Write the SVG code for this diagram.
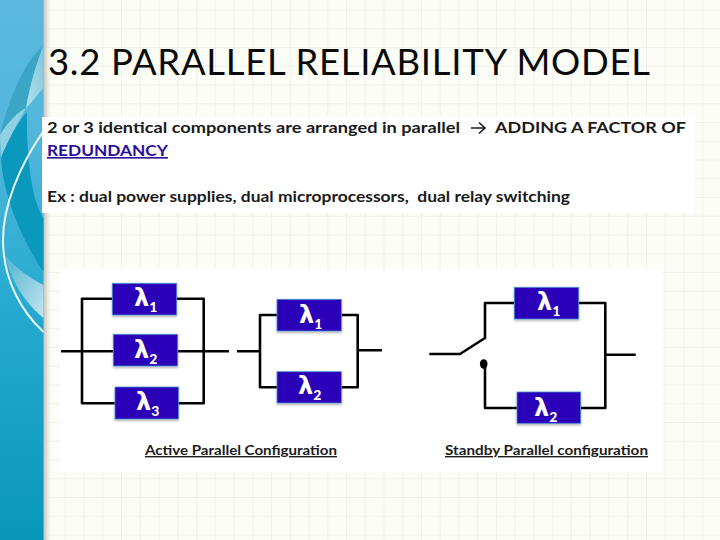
<svg xmlns="http://www.w3.org/2000/svg" width="720" height="540" viewBox="0 0 720 540">
<style>
.wire{fill:none;stroke:#000;stroke-width:2.6;stroke-linejoin:round}
.box{fill:#2a00b8;stroke:#4a8fd0;stroke-width:.8;filter:url(#ds)}
.lam{font-family:"DejaVu Sans",sans-serif;font-weight:700;font-size:24px;fill:#fff}
.sub{font-family:Lato,sans-serif;font-weight:900;font-size:14px}
.body{font-family:Lato,sans-serif;font-weight:700;font-size:16px;fill:#1a1a1a}
.cap{font-family:Lato,sans-serif;font-weight:700;font-size:14px;fill:#1c1c1c;text-decoration:underline}
</style>
<defs>
<pattern id="grid" width="18.75" height="18.75" patternUnits="userSpaceOnUse" x="8.5" y="9.5">
<path d="M0 0V18.75M0 0H18.75" fill="none" stroke="#e6e8dc" stroke-width="1"/>
</pattern>
<linearGradient id="side" x1="0" y1="0" x2="0" y2="1">
<stop offset="0" stop-color="#5cb9df"/><stop offset=".25" stop-color="#52b6dc"/><stop offset=".55" stop-color="#27abd0"/><stop offset="1" stop-color="#0a96bb"/>
</linearGradient>
<linearGradient id="shadow" x1="0" y1="0" x2="1" y2="0">
<stop offset="0" stop-color="#b9b9b2"/><stop offset="1" stop-color="#fdfdf8" stop-opacity="0"/>
</linearGradient>
<linearGradient id="wedge" x1="0" y1="0" x2="1" y2="1">
<stop offset="0" stop-color="#4fb3d2"/><stop offset="1" stop-color="#c4e5ee"/>
</linearGradient>
<linearGradient id="wedge2" x1="1" y1="0" x2="0" y2="1">
<stop offset="0" stop-color="#7cc6da"/><stop offset="1" stop-color="#b5e0ea"/>
</linearGradient>
<filter id="ds" x="-10%" y="-10%" width="120%" height="125%"><feDropShadow dx="0" dy="1.5" stdDeviation="1" flood-color="#000" flood-opacity=".3"/></filter>
</defs>
<rect width="720" height="540" fill="#fdfdf8"/>
<rect width="720" height="540" fill="url(#grid)"/>
<g id="sidebar">
<rect x="43" width="10" height="540" fill="url(#shadow)"/>
<rect width="43.500" height="540" fill="url(#side)"/>
<path d="M43.500 45C26 62 12 88 0 135C8 122 18 112 26 108C30 85 36 65 43.500 45Z" fill="#3ba5c6"/>
<path d="M43.500 45C36 65 30 85 26 108C32 102 38 94 43.500 88Z" fill="url(#wedge2)"/>
<path d="M26 108C18 112 8 122 0 135L1 158C8 140 18 122 26 108Z" fill="#8fd0e2"/>
<path d="M27 112C18 122 8 140 1 158C3 195 22 240 43.500 272V218C34 205 26 165 27 112Z" fill="#0b98bd"/>
<path d="M5 255C12 285 28 305 43.500 318V285C30 278 15 268 5 255Z" fill="url(#wedge)"/>
<path d="M43.500 131C20 165 3 205 3 240C3 280 22 312 43.500 332" fill="none" stroke="#eefbfd" stroke-width="2"/>
</g>
<rect id="panel-top" x="42" y="117" width="652" height="96" fill="#fff"/>
<rect id="panel-bottom" x="60" y="270" width="602" height="202" fill="#fff"/>
<text x="48" y="75" font-family="Lato,sans-serif" font-weight="400" font-size="36.500" fill="#0a0a0a" textLength="602" lengthAdjust="spacing">3.2 PARALLEL RELIABILITY MODEL</text>
<g id="intro">
<text class="body" x="47" y="133" textLength="413" lengthAdjust="spacingAndGlyphs">2 or 3 identical components are arranged in parallel</text>
<path d="M471 128H485M479 122.500L485 128L479 133.500" fill="none" stroke="#1a1a1a" stroke-width="1.600"/>
<text class="body" x="495" y="133" textLength="191" lengthAdjust="spacingAndGlyphs">ADDING A FACTOR OF</text>
<text class="body" x="47" y="156" style="fill:#2a0ea0;text-decoration:underline" textLength="121" lengthAdjust="spacingAndGlyphs">REDUNDANCY</text>
<text class="body" x="47" y="202" textLength="523" lengthAdjust="spacingAndGlyphs" xml:space="preserve">Ex : dual power supplies, dual microprocessors,  dual relay switching</text>
</g>
<g id="connectors">
<path class="wire" d="M112 298.700H82V403.300H115M177 298.700H203.700V403.300H178M61 351.300H113M178 351.300H229"/>
<path class="wire" d="M237 351.300H260M277 315H260V387.300H277M341 315H357.700V387.300H341M357.700 350.300H382"/>
<path class="wire" d="M514 303H485V338L460 354H429.300M579 303H605.300V408H581M517 408H485V364M605.300 354.700H635.700"/>
<ellipse cx="483.700" cy="364" rx="3.800" ry="4.800" fill="#000"/>
</g>
<g id="a1"><rect class="box" x="112.300" y="283.300" width="64.400" height="31.700"/><text class="lam" x="134" y="306">λ<tspan class="sub" dy="6">1</tspan></text></g>
<g id="a2"><rect class="box" x="113.300" y="334.300" width="64.400" height="31.700"/><text class="lam" x="134" y="358">λ<tspan class="sub" dy="6">2</tspan></text></g>
<g id="a3"><rect class="box" x="115" y="387" width="63.400" height="32"/><text class="lam" x="136" y="410">λ<tspan class="sub" dy="6">3</tspan></text></g>
<g id="b1"><rect class="box" x="277" y="299.300" width="64.300" height="31.700"/><text class="lam" x="299" y="323">λ<tspan class="sub" dy="6">1</tspan></text></g>
<g id="b2"><rect class="box" x="277" y="371.700" width="64.300" height="31.300"/><text class="lam" x="298" y="394">λ<tspan class="sub" dy="6">2</tspan></text></g>
<g id="c1"><rect class="box" x="514.300" y="287.300" width="64.400" height="31.700"/><text class="lam" x="537" y="310">λ<tspan class="sub" dy="6">1</tspan></text></g>
<g id="c2"><rect class="box" x="517" y="392" width="63.700" height="31.300"/><text class="lam" x="534" y="416">λ<tspan class="sub" dy="6">2</tspan></text></g>
<text class="cap" x="145" y="455" textLength="192" lengthAdjust="spacingAndGlyphs">Active Parallel Configuration</text>
<text class="cap" x="445" y="455" textLength="203" lengthAdjust="spacingAndGlyphs">Standby Parallel configuration</text>
</svg>
